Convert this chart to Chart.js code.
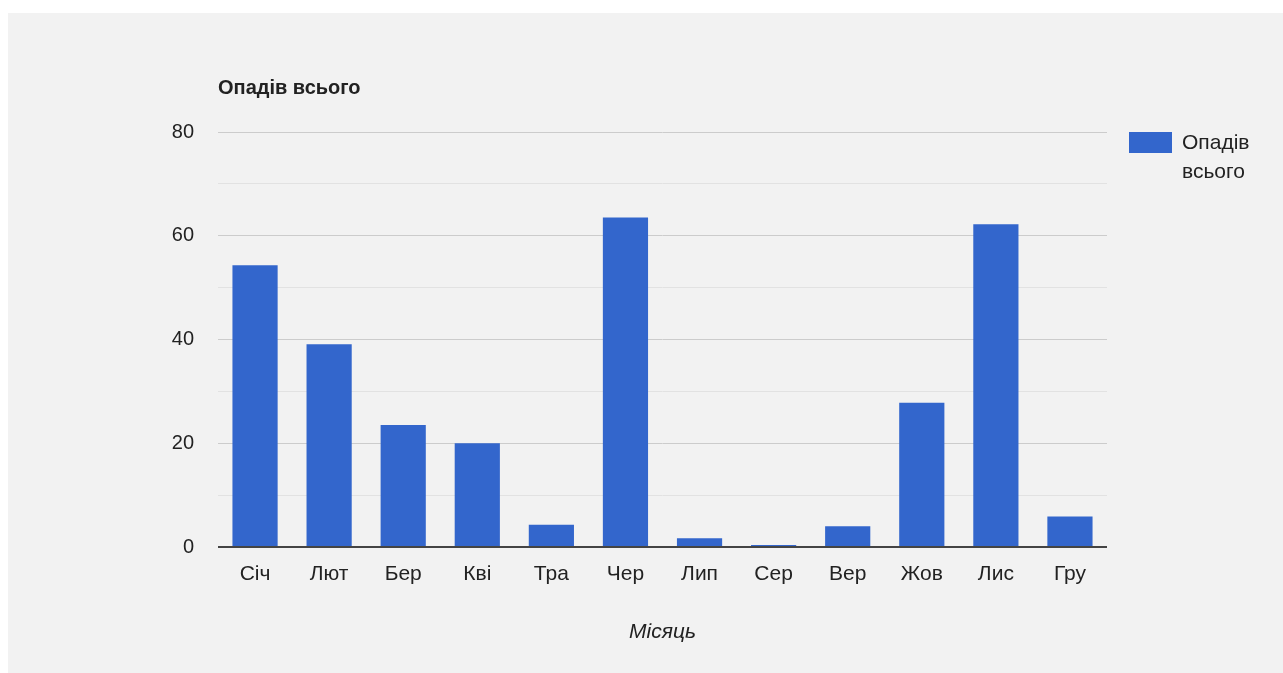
<!DOCTYPE html>
<html lang="uk">
<head>
<meta charset="utf-8">
<title>Опадів всього</title>
<script src="https://cdn.jsdelivr.net/npm/chart.js@4"></script>
<style>
  html, body { margin: 0; padding: 0; background: #ffffff; }
  #panel {
    position: absolute; left: 8px; top: 13px;
    width: 1275px; height: 660px;
    background: #f2f2f2;
  }
</style>
</head>
<body>
<div id="panel"><canvas id="rain"></canvas></div>
<script>
/* Опади по місяцях, мм */
const MONTHS = ["Січ", "Лют", "Бер", "Кві", "Тра", "Чер", "Лип", "Сер", "Вер", "Жов", "Лис", "Гру"];
const RAIN = [54.3, 39.1, 23.5, 20.0, 4.3, 63.5, 1.7, 0.4, 4.0, 27.8, 62.2, 5.9];
const Y_TICKS = [0, 20, 40, 60, 80];

const SERIES_NAME = "Опадів всього";
const AXIS_NAME = "Місяць";

const BLUE = "#3366cc";
const INK = "#222222";
const FONT = 'Arial, "Liberation Sans", sans-serif';

/* Заголовок угорі ліворуч і легенда праворуч у два рядки */
const captions = {
  id: "captions",
  afterDraw(chart) {
    const ctx = chart.ctx;
    const area = chart.chartArea;
    ctx.save();
    ctx.fillStyle = INK;
    ctx.textBaseline = "alphabetic";
    ctx.textAlign = "left";
    ctx.font = "bold 20px " + FONT;
    ctx.fillText(SERIES_NAME, area.left, 81);

    const bx = area.right + 22, by = area.top;
    ctx.fillStyle = chart.data.datasets[0].backgroundColor;
    ctx.fillRect(bx, by, 43, 21);
    ctx.fillStyle = INK;
    ctx.font = "21px " + FONT;
    const words = SERIES_NAME.split(" ");
    words.forEach((w, i) => ctx.fillText(w, bx + 53, by + 17 + i * 29));
    ctx.restore();
  },
};

new Chart(document.getElementById("rain"), {
  type: "bar",
  data: {
    labels: MONTHS,
    datasets: [{
      label: SERIES_NAME,
      data: RAIN,
      backgroundColor: BLUE,
      barPercentage: 0.61,
      categoryPercentage: 1,
    }],
  },
  options: {
    responsive: true,
    maintainAspectRatio: false,
    animation: false,
    layout: { padding: { left: 0, top: 119, right: 176, bottom: 0 } },
    plugins: {
      legend: { display: false },
      tooltip: { enabled: false },
    },
    scales: {
      x: {
        grid: { display: false },
        border: { display: false },
        ticks: { color: INK, font: { family: FONT, size: 21 }, padding: 7 },
        title: {
          display: true,
          text: AXIS_NAME,
          color: INK,
          font: { family: FONT, size: 21, style: "italic" },
          padding: { top: 0, bottom: 28 },
        },
        afterFit: (scale) => { scale.height = 126; },
      },
      y: {
        min: 0,
        max: 80,
        border: { display: false },
        grid: {
          drawTicks: false,
          color: (c) => c.tick.value === 0 ? "#444444"
            : (Y_TICKS.includes(c.tick.value) ? "#cccccc" : "#e2e2e2"),
          lineWidth: (c) => c.tick.value === 0 ? 2 : 1,
        },
        ticks: {
          stepSize: 10,
          padding: 24,
          color: INK,
          font: { family: FONT, size: 20 },
          callback: (v) => Y_TICKS.includes(v) ? String(v) : "",
        },
        afterFit: (scale) => { scale.width = 210; },
      },
    },
  },
  plugins: [captions],
});
</script>
</body>
</html>
